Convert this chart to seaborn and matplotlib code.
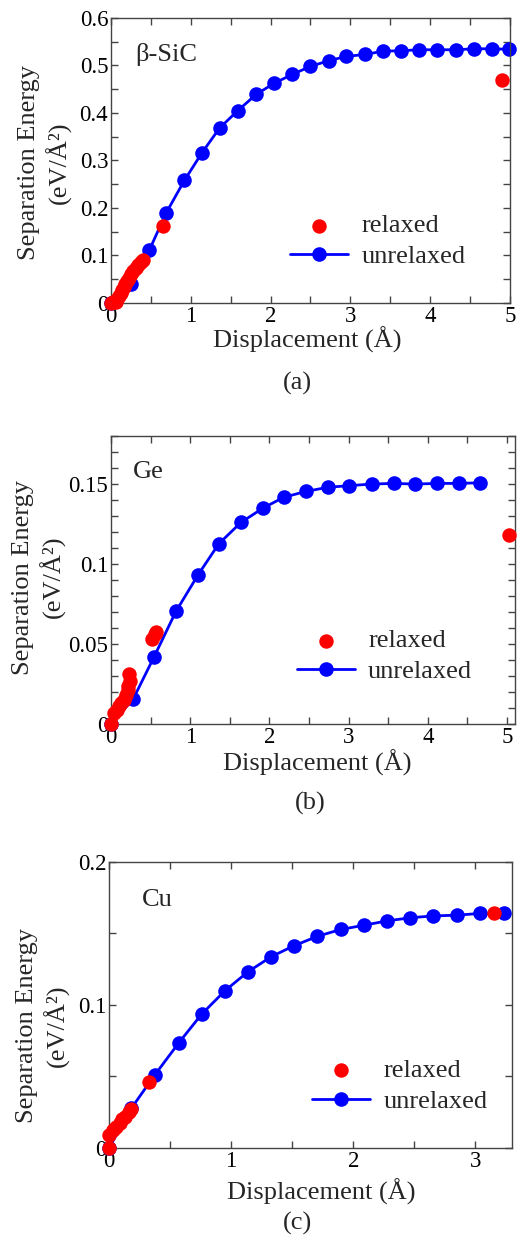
import numpy as np
import pandas as pd
import matplotlib
matplotlib.use("Agg")
import matplotlib.pyplot as plt
from matplotlib.ticker import MultipleLocator, FormatStrFormatter
import seaborn as sns

# ---- separation energy vs displacement ----
# (a) beta-SiC
sic_unrelaxed_x = [0.0, 0.25, 0.48, 0.69, 0.92, 1.14, 1.36, 1.59, 1.82, 2.04, 2.27, 2.50,
                   2.73, 2.95, 3.18, 3.41, 3.64, 3.86, 4.09, 4.32, 4.55, 4.77, 4.99]
sic_unrelaxed_y = [0.0, 0.040, 0.111, 0.189, 0.258, 0.316, 0.368, 0.405, 0.439, 0.462, 0.481, 0.498,
                   0.510, 0.519, 0.523, 0.530, 0.531, 0.533, 0.533, 0.533, 0.535, 0.535, 0.534]
sic_relaxed_x = [0.0, 0.03, 0.06, 0.08, 0.10, 0.12, 0.14, 0.16, 0.18, 0.20, 0.22, 0.25,
                 0.28, 0.31, 0.34, 0.37, 0.40, 0.65, 4.90]
sic_relaxed_y = [0.0, 0.002, 0.001, 0.008, 0.014, 0.020, 0.027, 0.033, 0.040, 0.046, 0.052, 0.060,
                 0.067, 0.074, 0.080, 0.086, 0.091, 0.162, 0.470]

# (b) Ge
ge_unrelaxed_x = [0.0, 0.28, 0.54, 0.82, 1.10, 1.36, 1.64, 1.92, 2.18, 2.46, 2.74, 3.01,
                  3.29, 3.57, 3.84, 4.12, 4.39, 4.66]
ge_unrelaxed_y = [0.0, 0.0156, 0.0416, 0.0704, 0.0933, 0.1126, 0.126, 0.135, 0.1417, 0.1454,
                  0.148, 0.149, 0.150, 0.1504, 0.150, 0.1504, 0.1504, 0.1508]
ge_relaxed_x = [0.0, 0.04, 0.07, 0.10, 0.13, 0.16, 0.19, 0.21, 0.22, 0.24, 0.23, 0.52, 0.55, 0.57, 5.02]
ge_relaxed_y = [0.0, 0.007, 0.009, 0.011, 0.013, 0.015, 0.018, 0.021, 0.024, 0.027, 0.031,
                0.053, 0.056, 0.0575, 0.118]

# (c) Cu
cu_unrelaxed_x = [0.0, 0.184, 0.376, 0.573, 0.76, 0.95, 1.135, 1.327, 1.514, 1.706, 1.897,
                  2.09, 2.276, 2.468, 2.657, 2.85, 3.035, 3.236]
cu_unrelaxed_y = [0.0, 0.0279, 0.0512, 0.0737, 0.0937, 0.110, 0.123, 0.1337, 0.1414, 0.148,
                  0.1528, 0.1558, 0.1588, 0.161, 0.1623, 0.1628, 0.164, 0.164]
cu_relaxed_x = [0.0, 0.0, 0.03, 0.06, 0.09, 0.11, 0.13, 0.16, 0.18, 0.33, 3.153]
cu_relaxed_y = [0.0, 0.009, 0.0127, 0.015, 0.0176, 0.020, 0.022, 0.025, 0.027, 0.0463, 0.164]

materials = ["β-SiC", "Ge", "Cu"]
captions = ["(a)", "(b)", "(c)"]

sns.set_theme(style="ticks")
plt.rcParams["font.family"] = ["Liberation Serif", "DejaVu Serif"]
plt.rcParams["axes.linewidth"] = 1.0

RED = "#ff0000"
BLUE = "#0000ff"
SPINE = "#444444"
LABEL_FS = 19
TICK_FS = 16.5

fig = plt.figure(figsize=(5.22, 12.36), dpi=100)

panels = [
    dict(rect=[0.2126, 0.7549, 0.7644, 0.2306], xlim=(0, 5), ylim=(0, 0.6),
         ymaj=0.1, ymin=0.05, xu=sic_unrelaxed_x, yu=sic_unrelaxed_y,
         xr=sic_relaxed_x, yr=sic_relaxed_y, name_pos=(0.06, 0.87),
         leg=(0.449, 0.312), ylab=(-0.165, 0.491), xlab=(0.491, -0.13),
         cap=(297, 383)),
    dict(rect=[0.2126, 0.4142, 0.7740, 0.2330], xlim=(0, 5.1), ylim=(0, 0.18),
         ymaj=0.05, ymin=0.01, xu=ge_unrelaxed_x, yu=ge_unrelaxed_y,
         xr=ge_relaxed_x, yr=ge_relaxed_y, name_pos=(0.054, 0.875),
         leg=(0.460, 0.33), ylab=(-0.178, 0.51), xlab=(0.51, -0.135),
         cap=(310, 803)),
    dict(rect=[0.2088, 0.0712, 0.7720, 0.2314], xlim=(0, 3.3), ylim=(0, 0.2),
         ymaj=0.1, ymin=0.05, xu=cu_unrelaxed_x, yu=cu_unrelaxed_y,
         xr=cu_relaxed_x, yr=cu_relaxed_y, name_pos=(0.082, 0.867),
         leg=(0.504, 0.313), ylab=(-0.164, 0.427), xlab=(0.526, -0.154),
         cap=(297, 1223)),
]

for name, cap, p in zip(materials, captions, panels):
    ax = fig.add_axes(p["rect"])
    unrelaxed = pd.DataFrame({"x": p["xu"], "y": p["yu"]})
    relaxed = pd.DataFrame({"x": p["xr"], "y": p["yr"]})

    sns.lineplot(data=unrelaxed, x="x", y="y", ax=ax, color=BLUE, linewidth=2.0,
                 marker="o", markersize=10.5, markeredgewidth=0, label="unrelaxed",
                 clip_on=False, zorder=2, legend=False)
    sns.scatterplot(data=relaxed, x="x", y="y", ax=ax, color=RED, s=108,
                    linewidth=0, label="relaxed", clip_on=False, zorder=3,
                    legend=False)

    ax.set_xlim(*p["xlim"])
    ax.set_ylim(*p["ylim"])
    ax.xaxis.set_major_locator(MultipleLocator(1))
    ax.xaxis.set_minor_locator(MultipleLocator(0.5))
    ax.yaxis.set_major_locator(MultipleLocator(p["ymaj"]))
    ax.yaxis.set_minor_locator(MultipleLocator(p["ymin"]))
    ax.xaxis.set_major_formatter(FormatStrFormatter("%g"))
    ax.yaxis.set_major_formatter(FormatStrFormatter("%g"))
    ax.tick_params(which="both", direction="in", top=True, right=True,
                   length=5, width=1, color=SPINE, labelsize=TICK_FS, pad=2,
                   labelcolor="black")
    for s in ax.spines.values():
        s.set_color(SPINE)
        s.set_linewidth(1.0)
        s.set_visible(True)

    ax.set_xlabel("Displacement (Å)", fontsize=LABEL_FS)
    ax.xaxis.label.set_va("center")
    ax.xaxis.set_label_coords(*p["xlab"])
    ax.set_ylabel("Separation Energy\n(eV/Å²)", fontsize=LABEL_FS,
                  multialignment="center", linespacing=1.25)
    ax.yaxis.label.set_va("center")
    ax.yaxis.set_label_coords(*p["ylab"])

    ax.text(p["name_pos"][0], p["name_pos"][1], name, transform=ax.transAxes,
            fontsize=LABEL_FS, ha="left", va="center")

    handles, labels = ax.get_legend_handles_labels()
    order = [labels.index("relaxed"), labels.index("unrelaxed")]
    ax.legend([handles[i] for i in order], [labels[i] for i in order],
              loc="upper left", bbox_to_anchor=p["leg"], frameon=False,
              fontsize=LABEL_FS, handlelength=2.2, handletextpad=0.5,
              labelspacing=0.28, borderpad=0, borderaxespad=0, scatterpoints=1)

    fig.text(p["cap"][0] / 522, 1 - p["cap"][1] / 1236, cap, fontsize=LABEL_FS,
             ha="center", va="center")

fig.savefig("out.png", dpi=100)
